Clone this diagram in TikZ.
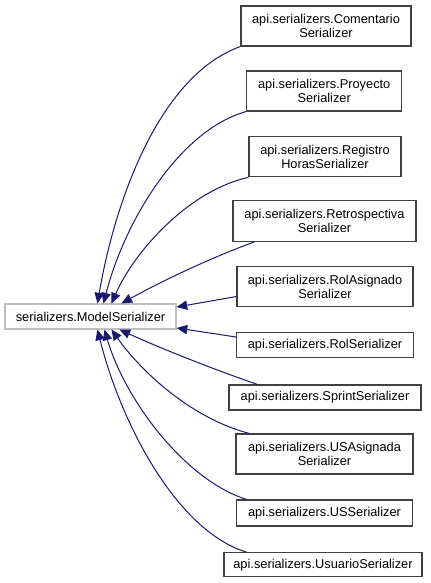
\documentclass[tikz,border=0pt]{standalone}
\usepackage{fontspec}
\setmainfont{Liberation Sans}
\usetikzlibrary{arrows.meta}
\definecolor{edgeblue}{HTML}{191970}
\definecolor{basegray}{HTML}{BFBFBF}
\definecolor{boxgray}{HTML}{404040}
\tikzset{
  cls/.style={draw=boxgray, line width=0.8pt, fill=white, inner sep=0pt, align=center,
    font=\fontsize{9.6}{10.5}\selectfont, text=black},
  basecls/.style={cls, draw=basegray},
  inh/.style={draw=edgeblue, line width=0.75pt, -{Triangle[length=8pt,width=7pt]}, fill=none},
}
\begin{document}
\begin{tikzpicture}[x=0.75pt,y=-0.75pt]
\useasboundingbox (0,0) rectangle (431,583);
\node[basecls, minimum width=128.25pt, minimum height=18.75pt] (base) at (90.5,316.5) {serializers.ModelSerializer};
\node[cls, minimum width=127.5pt, minimum height=30pt] (c1) at (326,26) {api.serializers.Comentario\\Serializer};
\node[cls, minimum width=116.25pt, minimum height=30pt] (c2) at (324.2,91) {api.serializers.Proyecto\\Serializer};
\node[cls, minimum width=114pt, minimum height=30.5pt] (c3) at (325,156.5) {api.serializers.Registro\\HorasSerializer};
\node[cls, minimum width=137.25pt, minimum height=30.5pt] (c4) at (324.5,221) {api.serializers.Retrospectiva\\Serializer};
\node[cls, minimum width=132pt, minimum height=30pt] (c5) at (325,286.5) {api.serializers.RolAsignado\\Serializer};
\node[cls, minimum width=132.75pt, minimum height=18.75pt] (c6) at (325,345) {api.serializers.RolSerializer};
\node[cls, minimum width=144pt, minimum height=18.75pt] (c7) at (325,397.5) {api.serializers.SprintSerializer};
\node[cls, minimum width=132.75pt, minimum height=30pt] (c8) at (324.5,454) {api.serializers.USAsignada\\Serializer};
\node[cls, minimum width=132pt, minimum height=19.5pt] (c9) at (324.5,513) {api.serializers.USSerializer};
\node[cls, minimum width=148.5pt, minimum height=18pt] (c10) at (323,564.7) {api.serializers.UsuarioSerializer};

\draw[inh] (c1.south west) .. controls (160,75) and (115,200) .. ([xshift=69.75pt]base.north west);
\draw[inh] (c2.south west) .. controls (180,130) and (125,220) .. ([xshift=74.25pt]base.north west);
\draw[inh] (c3.south west) .. controls (190,190) and (135,250) .. ([xshift=80.25pt]base.north west);
\draw[inh] ([xshift=16.5pt]c4.south west) .. controls (210,258) and (160,282) .. ([xshift=87.75pt]base.north west);
\draw[inh] ([yshift=-7.5pt]c5.west) -- ([yshift=7.1pt]base.east);
\draw[inh] ([yshift=6pt]c6.west) -- ([yshift=-8.6pt]base.east);
\draw[inh] ([xshift=21.75pt]c7.north west) .. controls (210,368) and (160,348) .. ([xshift=86.25pt]base.south west);
\draw[inh] ([xshift=10.5pt]c8.north west) .. controls (190,418) and (140,370) .. ([xshift=80.25pt]base.south west);
\draw[inh] ([xshift=8pt]c9.north west) .. controls (185,480) and (125,400) .. ([xshift=75pt]base.south west);
\draw[inh] ([xshift=17.25pt]c10.north west) .. controls (175,530) and (120,420) .. ([xshift=69.75pt]base.south west);
\end{tikzpicture}
\end{document}
